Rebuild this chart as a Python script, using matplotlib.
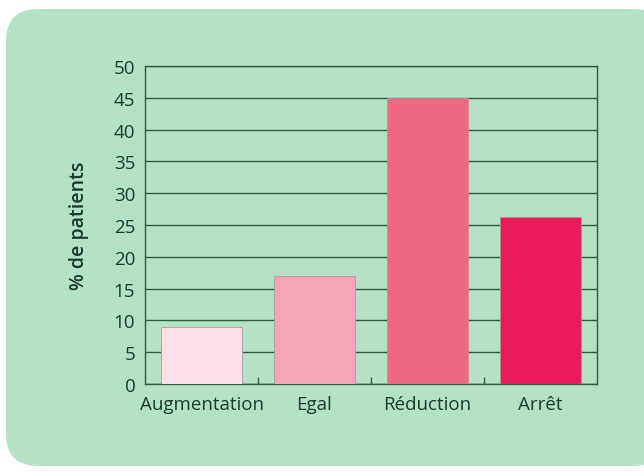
"""Bar chart: % de patients by change category."""

import matplotlib

matplotlib.use("Agg")
import matplotlib.pyplot as plt
from matplotlib.patches import FancyBboxPatch

categories = ["Augmentation", "Egal", "Réduction", "Arrêt"]
values = [9, 17, 45, 26.3]
bar_colors = ["#fde1e9", "#f5a5b7", "#ef6881", "#e91b5b"]
y_ticks = list(range(0, 55, 5))

BG = "#b3e2c6"
LINE = "#2f5b3c"
TEXT = "#1e3a28"

plt.rcParams["font.family"] = ["Open Sans", "DejaVu Sans"]

W, H = 644, 477
fig = plt.figure(figsize=(W / 100, H / 100), dpi=100)
fig.patch.set_facecolor("white")

# rounded green panel
panel = FancyBboxPatch(
    (6 / W, 10 / H), 660 / W, 457 / H,
    boxstyle="round,pad=0,rounding_size=0.05",
    transform=fig.transFigure, facecolor=BG, edgecolor="none", zorder=-5,
    mutation_aspect=W / H,
)
fig.patches.append(panel)

ax = fig.add_axes([145 / W, 1 - 385 / H, 452 / W, 318 / H])
ax.set_zorder(2)
ax.set_facecolor("none")

x = range(len(categories))
ax.bar(x, values, width=0.71, color=bar_colors, edgecolor="#c98a98",
       linewidth=0.6, zorder=3)

ax.set_xlim(-0.5, len(categories) - 0.5)
ax.set_ylim(0, 50)
ax.set_yticks(y_ticks)
ax.set_yticklabels([str(t) for t in y_ticks])
ax.yaxis.grid(True, color=LINE, linewidth=1.0, zorder=1)
ax.set_axisbelow(True)

ax.set_xticks(list(x))
ax.set_xticklabels(categories)
ax.set_xticks([i + 0.5 for i in range(len(categories) - 1)], minor=True)
ax.tick_params(axis="x", which="major", length=0, pad=8, labelsize=13.5,
               colors=TEXT)
ax.tick_params(axis="x", which="minor", direction="in", length=5,
               width=1, color=LINE)
ax.tick_params(axis="y", length=0, pad=7, labelsize=13.5, colors=TEXT)

for side in ax.spines.values():
    side.set_color(LINE)
    side.set_linewidth(1.0)

ax.set_ylabel("% de patients", fontsize=14, color=TEXT, fontweight="semibold",
              labelpad=18)

fig.savefig("out.png", dpi=100)
